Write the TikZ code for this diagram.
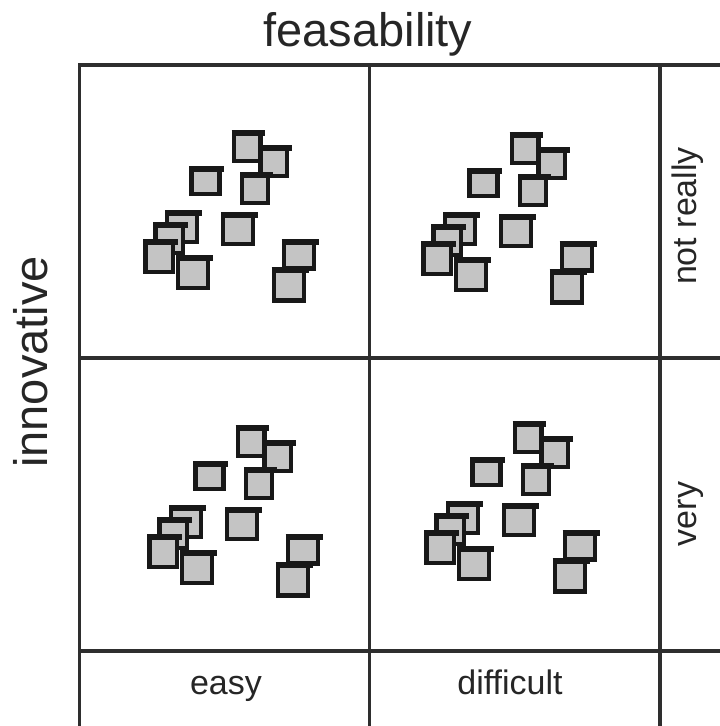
\documentclass[tikz,border=0pt]{standalone}
\usepackage{fontspec}
\setmainfont{Liberation Sans}
\definecolor{sqfill}{HTML}{C4C4C4}
\definecolor{sqline}{HTML}{181818}
\definecolor{gridc}{HTML}{2E2E2E}
\definecolor{textc}{HTML}{262626}
\tikzset{
  gridline/.style={gridc, line width=3.8pt},
  winframe/.style={fill=sqfill, draw=sqline, line width=4.4pt},
  winbar/.style={sqline, line width=6pt},
  biglab/.style={textc, font=\fontsize{47}{56}\selectfont, inner sep=0pt},
  smalllab/.style={textc, font=\fontsize{34}{40}\selectfont, inner sep=0pt},
}
\newcommand\winbox[4]{%
  \filldraw[winframe] ({#1+2.2},{#2+2.2}) rectangle ({#3-2.2},{#4-2.2});
  \draw[winbar] ({#1},{#2+3}) -- ({#3+2.5},{#2+3});
}
\newcommand\wincluster{%
  \winbox{231.7}{130}{262.7}{163.3}
  \winbox{258.3}{145}{289.3}{178.3}
  \winbox{240}{171.7}{270}{205}
  \winbox{189.3}{166}{221.7}{196}
  \winbox{221}{211.7}{255}{246}
  \winbox{165}{210}{199}{244}
  \winbox{153.3}{221.7}{185}{255}
  \winbox{143.3}{239.3}{175}{274}
  \winbox{175.7}{255}{210}{290}
  \winbox{281.7}{239.3}{316}{270.7}
  \winbox{271.7}{266.7}{306}{302.7}
}
\begin{document}
\begin{tikzpicture}[x=1pt,y=-1pt]
\useasboundingbox (0,0) rectangle (720,726);
% grid
\draw[gridline] (79.5,726) -- (79.5,65) -- (720,65);
\draw[gridline] (369.5,65) -- (369.5,726);
\draw[gridline] (660,65) -- (660,726);
\draw[gridline] (79.5,358) -- (720,358);
\draw[gridline] (79.5,651) -- (720,651);
% clusters
\begin{scope}\wincluster\end{scope}
\begin{scope}[shift={(278,2)}]\wincluster\end{scope}
\begin{scope}[shift={(4,295)}]\wincluster\end{scope}
\begin{scope}[shift={(281,291)}]\wincluster\end{scope}
% labels
\node[biglab, anchor=base] (feas) at (368,46) {feasability};
\node[biglab, anchor=base, rotate=90] (innov) at (47,362) {innovative};
\node[smalllab, anchor=base] (easy) at (226,694) {easy};
\node[smalllab, anchor=base] (diff) at (510,694) {difficult};
\node[smalllab, anchor=base, rotate=90] (notr) at (696,216) {not really};
\node[smalllab, anchor=base, rotate=90] (very) at (696,514) {very};
\end{tikzpicture}
\end{document}
